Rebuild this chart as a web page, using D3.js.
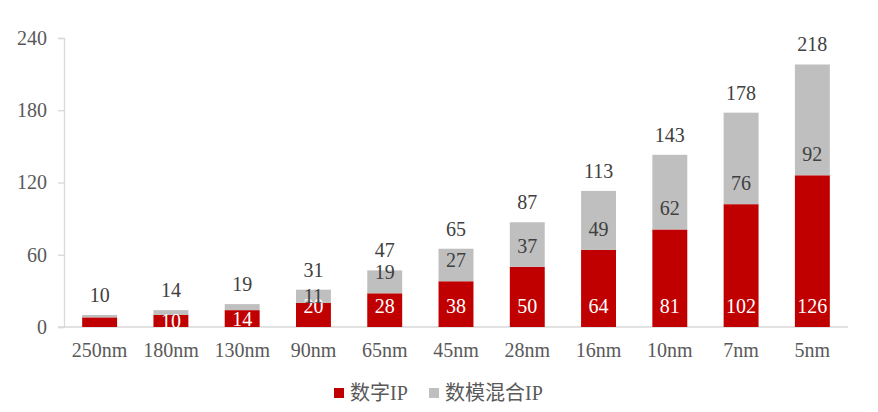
<!DOCTYPE html>
<html>
<head>
<meta charset="utf-8">
<script src="https://cdn.jsdelivr.net/npm/d3@7"></script>
<style>
	body { margin: 0; background: #fff; }
	text { font-family: "Liberation Serif", "Noto Sans CJK SC", serif; }
</style>
</head>
<body>
<script>

// data
var categories = ['250nm', '180nm', '130nm', '90nm', '65nm', '45nm', '28nm', '16nm', '10nm', '7nm', '5nm']
var digitalIP = [8, 10, 14, 20, 28, 38, 50, 64, 81, 102, 126]
var mixedIP = [2, 4, 5, 11, 19, 27, 37, 49, 62, 76, 92]
var totals = [10, 14, 19, 31, 47, 65, 87, 113, 143, 178, 218]
var yTicks = [0, 60, 120, 180, 240]
var seriesNames = ['数字IP', '数模混合IP']

var width = 878
var height = 412
var red = '#C00000'
var grey = '#BFBFBF'

var svg = d3.select('body')
	.append('svg')
	.attr('width', width)
	.attr('height', height)

var xScale = d3.scaleBand()
	.domain(categories)
	.range([64, 848])
	.paddingInner(0.51)
	.paddingOuter(0.255)

var yScale = d3.scaleLinear()
	.domain([0, 240])
	.range([327, 38])

// y axis
var yAxis = svg.append('g')
	.attr('transform', `translate(${xScale.range()[0]}, 0)`)
	.call(d3.axisLeft(yScale).tickValues(yTicks).tickSize(6).tickPadding(11))
yAxis.select('.domain').attr('stroke', '#D9D9D9').attr('stroke-width', 1.3)
yAxis.selectAll('.tick line').attr('stroke', '#D9D9D9').attr('stroke-width', 1.3)
yAxis.selectAll('.tick text')
	.attr('fill', '#595959')
	.style('font-size', '20px')

// x axis
var xAxis = svg.append('g')
	.attr('transform', `translate(0, ${yScale(0)})`)
	.call(d3.axisBottom(xScale).tickSize(0).tickPadding(16))
xAxis.select('.domain')
	.attr('d', `M58,0H${xScale.range()[1]}`)
	.attr('stroke', '#D9D9D9')
	.attr('stroke-width', 1.3)
xAxis.selectAll('.tick text')
	.attr('fill', '#595959')
	.style('font-size', '20px')

var rows = categories.map((c, i) => ({ cat : c, a : digitalIP[i], b : mixedIP[i], total : totals[i] }))

var bars = svg.append('g')
	.selectAll('g')
	.data(rows)
	.enter()
	.append('g')

bars.append('rect')
	.attr('x', d => xScale(d.cat))
	.attr('width', xScale.bandwidth())
	.attr('y', d => yScale(d.a))
	.attr('height', d => yScale(0) - yScale(d.a))
	.attr('fill', red)

bars.append('rect')
	.attr('x', d => xScale(d.cat))
	.attr('width', xScale.bandwidth())
	.attr('y', d => yScale(d.a + d.b))
	.attr('height', d => yScale(d.a) - yScale(d.a + d.b))
	.attr('fill', grey)

// label at the base of a segment, or centred when the segment is too short
function baseLabelY(lo, hi) {
	var bottom = yScale(lo)
	var top = yScale(hi)
	if (bottom - top >= 22)
		return bottom - 21
	return (bottom + top) / 2
}

var labelSize = '20px'

bars.filter(d => d.a >= 10)
	.append('text')
	.attr('x', d => xScale(d.cat) + xScale.bandwidth() / 2)
	.attr('y', d => baseLabelY(0, d.a))
	.attr('dy', '0.35em')
	.attr('text-anchor', 'middle')
	.attr('fill', '#fff')
	.style('font-size', labelSize)
	.text(d => d.a)

bars.filter(d => d.b >= 10)
	.append('text')
	.attr('x', d => xScale(d.cat) + xScale.bandwidth() / 2)
	.attr('y', d => baseLabelY(d.a, d.a + d.b))
	.attr('dy', '0.35em')
	.attr('text-anchor', 'middle')
	.attr('fill', '#404040')
	.style('font-size', labelSize)
	.text(d => d.b)

bars.append('text')
	.attr('x', d => xScale(d.cat) + xScale.bandwidth() / 2)
	.attr('y', d => yScale(d.total) - 20)
	.attr('dy', '0.35em')
	.attr('text-anchor', 'middle')
	.attr('fill', '#404040')
	.style('font-size', labelSize)
	.text(d => d.total)

// legend
var legend = svg.append('g')
	.selectAll('g')
	.data(seriesNames)
	.enter()
	.append('g')
	.attr('transform', (d, i) => `translate(${i === 0 ? 334 : 429}, 388)`)

legend.append('rect')
	.attr('width', 10)
	.attr('height', 10)
	.attr('fill', (d, i) => i === 0 ? red : grey)

legend.append('text')
	.attr('x', 16)
	.attr('y', 5)
	.attr('dy', '0.35em')
	.attr('fill', '#595959')
	.style('font-size', '20px')
	.text(d => d)

</script>
</body>
</html>
